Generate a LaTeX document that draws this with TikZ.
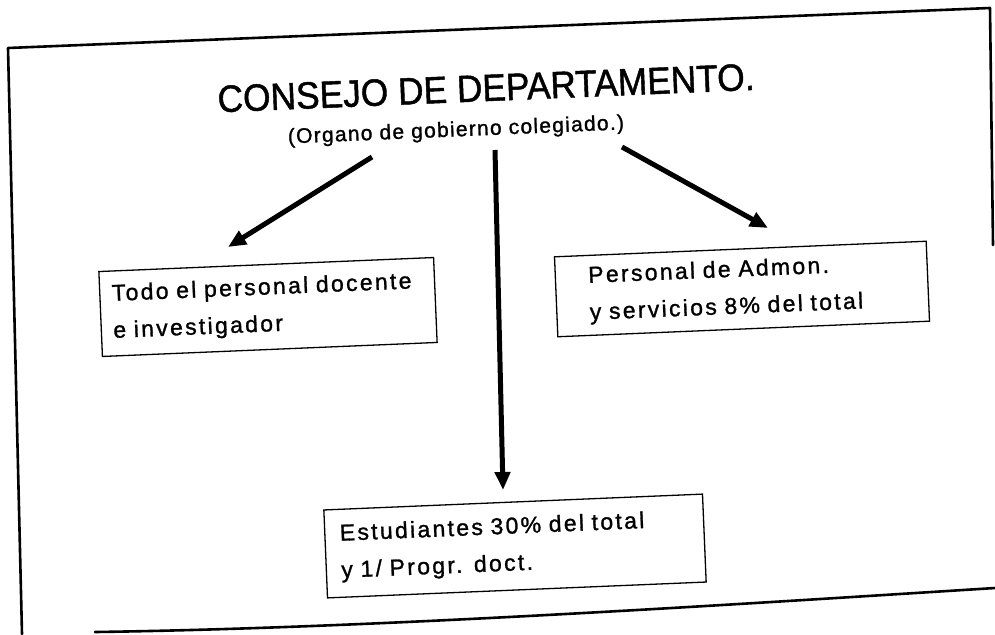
\documentclass[tikz,border=0pt]{standalone}
\usepackage{fontspec}
\setmainfont{Liberation Sans}
\newfontfamily\titlefont[FakeBold=1.2]{Liberation Sans}
\newfontfamily\boxfont[LetterSpace=10,FakeBold=1.2]{Liberation Sans}
\newfontfamily\subfont[LetterSpace=6,FakeBold=1.2]{Liberation Sans}
\usetikzlibrary{arrows.meta}
\begin{document}
\begin{tikzpicture}[x=1pt,y=-1pt,
  frameline/.style={line width=2.6pt, line cap=round, line join=round},
  boxnode/.style={draw, line width=1.3pt, rotate=2.4, align=left, inner xsep=12pt,
    font=\boxfont\fontsize{23}{37}\selectfont, anchor=center},
  arr/.style={line width=5pt, -{Triangle[length=18pt,width=15pt]}},
  titlenode/.style={rotate=2.4, inner sep=0pt, xscale=0.93, font=\titlefont\fontsize{38}{42}\selectfont},
  subnode/.style={rotate=2.4, inner sep=0pt, font=\subfont\fontsize{21}{26}\selectfont}]
\useasboundingbox (0,0) rectangle (995,634);
\fill[white] (0,0) rectangle (995,634);
% outer frame (scanned, partly open)
\draw[frameline] (22,634) -- (8,48) -- (990,8) -- (993,245);
\draw[frameline] (95,632) .. controls (380,628) and (740,604) .. (995,588);
% title
\node[titlenode] (title) at (486,88) {CONSEJO DE DEPARTAMENTO.};
\node[subnode] (sub) at (456,131) {(Organo de gobierno colegiado.)};
% boxes
\node[boxnode, text width=311pt, minimum height=85pt] (doc) at (268,307)
  {Todo el personal docente\\e investigador};
\node[boxnode, text width=306pt, inner xsep=33pt, minimum height=80pt] (pas) at (742,289)
  {Personal de Admon.\\y servicios 8\% del total};
\node[boxnode, text width=349pt, inner xsep=15pt, minimum height=88pt] (est) at (515,546)
  {Estudiantes 30\% del total\\y 1/ Progr. doct.};
% arrows
\coordinate (l0) at (372,157); \coordinate (l1) at (228,247);
\coordinate (m0) at (495,150); \coordinate (m1) at (503,490);
\coordinate (r0) at (622,147); \coordinate (r1) at (768,228);
\draw[arr] (l0) -- (l1);
\draw[arr] (m0) -- (m1);
\draw[arr] (r0) -- (r1);
\end{tikzpicture}
\end{document}
